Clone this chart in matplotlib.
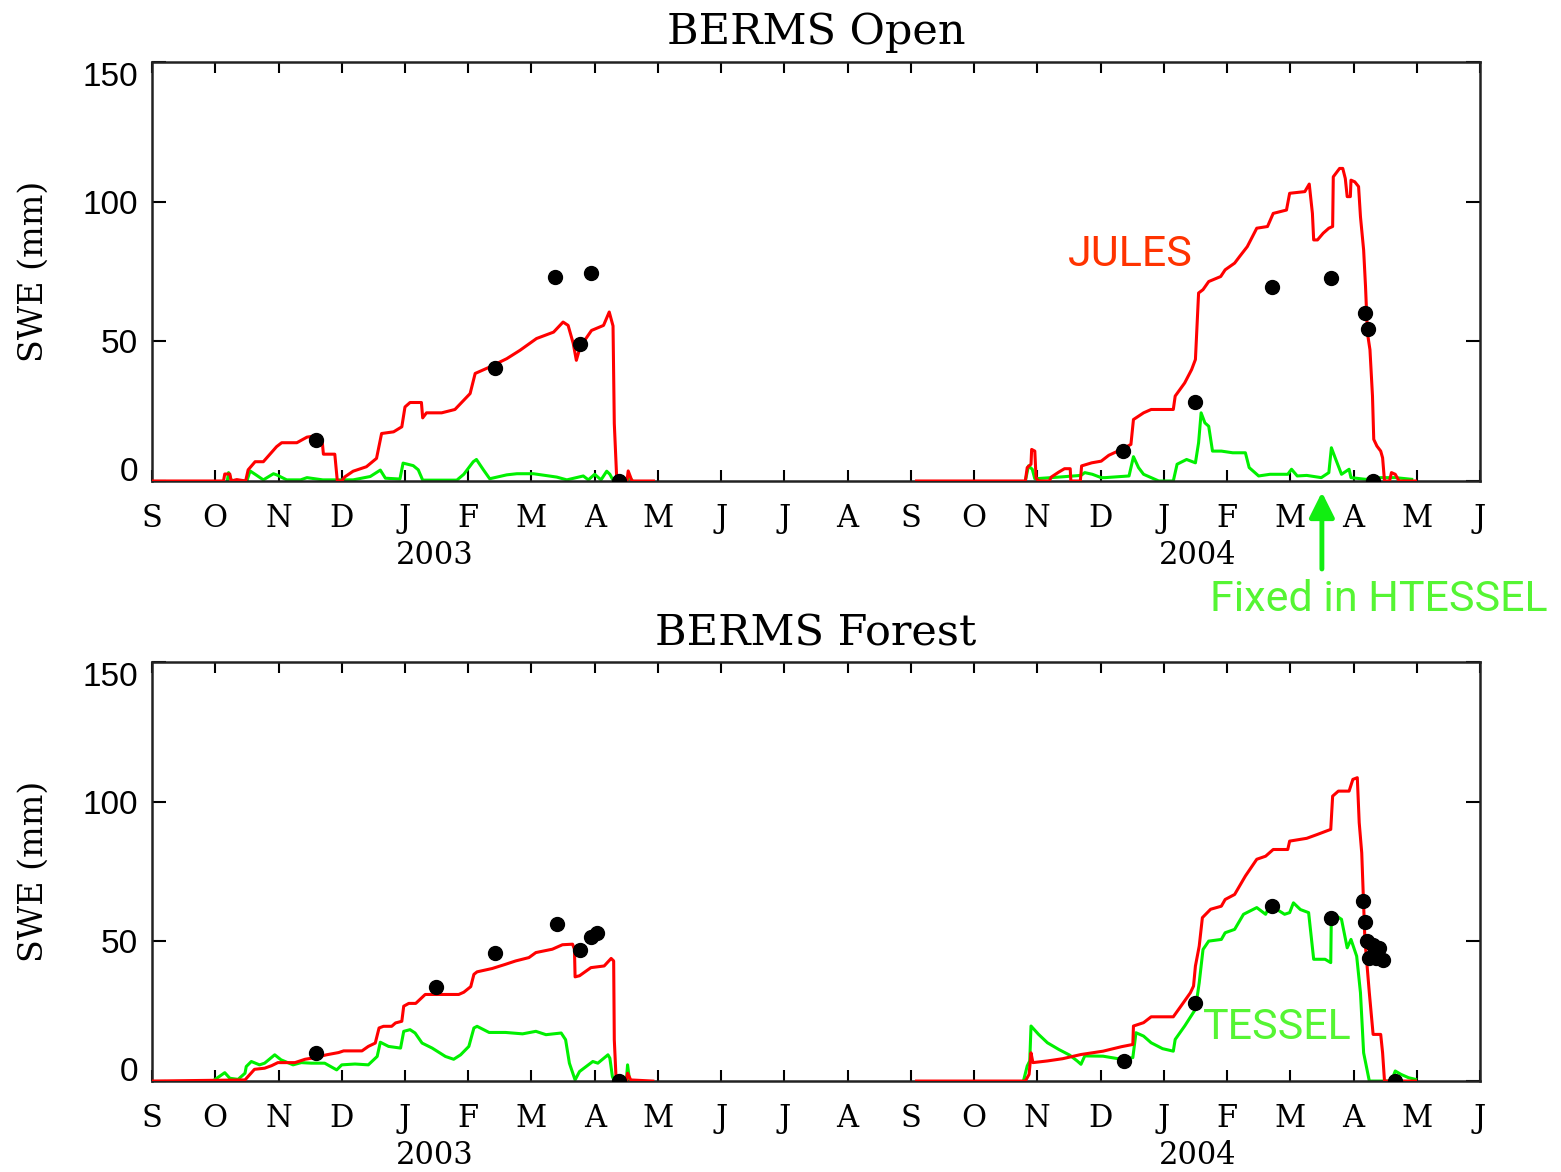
import numpy as np
import matplotlib
matplotlib.use("Agg")
import matplotlib.pyplot as plt

# ----------------------------
# Data (x in months since 1 Sep 2002, SWE in mm)
# ----------------------------

month_labels = list("SONDJFMAMJJASONDJFMAMJ")
year_labels = ["2003", "2004"]
year_pos = [4.47, 16.54]

# BERMS Open - JULES (red)
open_jules_03_t = [0.02, 1.13, 1.15, 1.23, 1.25, 1.34, 1.48, 1.52, 1.63, 1.76, 1.97, 2.05, 2.29, 2.45,
                   2.60, 2.69, 2.71, 2.89, 2.93, 3.00, 3.05, 3.18, 3.39, 3.55, 3.63, 3.82, 3.95, 4.00,
                   4.08, 4.26, 4.28, 4.34, 4.58, 4.79, 5.03, 5.11, 5.32, 5.61, 5.82, 6.08, 6.35, 6.50,
                   6.58, 6.66, 6.71, 6.77, 6.95, 7.14, 7.23, 7.29, 7.31, 7.35, 7.51, 7.53, 7.59, 7.93]
open_jules_03_v = [0, 0, 2.5, 2.5, 0, 0.5, 0, 4, 6.9, 6.9, 12.3, 13.7, 13.7, 15.7,
                   16.2, 14.5, 9.6, 9.6, 0, 0, 1.5, 3.5, 5.1, 8.1, 17, 17.6, 19.4, 26.5,
                   28.1, 28.1, 22.6, 24.4, 24.4, 25.6, 31.3, 38.5, 40.6, 43.8, 46.8, 51, 53.3, 56.9,
                   55.7, 49.3, 43.2, 48, 53.9, 55.7, 60.5, 55.5, 20.6, 0, 0, 3.6, 0, 0]
open_jules_04_t = [12.09, 13.81, 13.84, 13.90, 13.91, 13.96, 13.98, 14.02, 14.19, 14.22, 14.34, 14.43,
                   14.52, 14.53, 14.68, 14.70, 14.86, 15.01, 15.13, 15.33, 15.48, 15.52, 15.68, 15.80,
                   16.15, 16.18, 16.33, 16.44, 16.50, 16.55, 16.62, 16.71, 16.90, 16.97, 17.12, 17.20,
                   17.32, 17.47, 17.64, 17.73, 17.94, 17.99, 18.23, 18.30, 18.35, 18.37, 18.43, 18.52,
                   18.61, 18.67, 18.68, 18.78, 18.83, 18.87, 18.90, 18.95, 18.96, 19.02, 19.08, 19.11,
                   19.16, 19.19, 19.22, 19.26, 19.30, 19.32, 19.37, 19.43, 19.46, 19.49, 19.57, 19.60,
                   19.66, 19.72, 19.98]
open_jules_04_v = [0, 0, 4.8, 6.0, 11.3, 10.7, 1.0, 0, 0, 1.4, 3.2, 4.4,
                   4.4, 0, 0, 5.4, 6.5, 7.1, 9.2, 11.3, 13.1, 22.0, 24.4, 25.6,
                   25.6, 30.4, 35.1, 39.9, 43.5, 67.3, 68.5, 71.4, 73.2, 75.6, 78.0, 80.4,
                   83.9, 90.5, 91.1, 95.8, 97.0, 103.0, 103.6, 106.3, 95.8, 86.3, 86.3, 88.7,
                   90.5, 91.1, 108.9, 111.9, 111.9, 108.3, 101.8, 101.8, 107.7, 107.1, 105.4, 94.6,
                   82.7, 69.6, 53.0, 47.0, 30.4, 14.9, 12.5, 10.7, 8.3, 0, 0, 3.0,
                   2.4, 0, 0]

# BERMS Open - TESSEL (green)
open_tessel_03_t = [1.19, 1.21, 1.26, 1.50, 1.55, 1.63, 1.76, 1.92, 1.97, 2.13, 2.35, 2.45, 2.70, 3.18,
                    3.45, 3.61, 3.69, 3.92, 3.97, 4.13, 4.21, 4.28, 4.82, 4.93, 5.08, 5.13, 5.24, 5.34,
                    5.61, 5.77, 6.03, 6.40, 6.56, 6.82, 6.90, 7.00, 7.10, 7.19, 7.24, 7.29, 7.50, 7.56, 7.60]
open_tessel_03_v = [0, 3, 0, 0, 3.6, 2.4, 0.4, 2.6, 2.2, 0.4, 0.4, 1.2, 0.4, 0.4,
                    1.6, 3.9, 1.0, 0.7, 6.4, 5.5, 4.0, 0.3, 0.3, 2.4, 6.9, 7.7, 4.0, 0.8,
                    2.2, 2.6, 2.6, 1.4, 0.4, 1.8, 0.4, 2.4, 0.4, 3.5, 2.4, 0.3, 0.3, 1.0, 0]
open_tessel_04_t = [13.81, 13.86, 13.92, 13.96, 14.22, 14.40, 14.69, 14.75, 14.87, 15.01, 15.07, 15.45,
                    15.52, 15.60, 15.68, 15.92, 16.15, 16.21, 16.36, 16.50, 16.55, 16.59, 16.65, 16.71,
                    16.77, 16.91, 17.09, 17.29, 17.35, 17.50, 17.68, 17.96, 18.02, 18.11, 18.26, 18.49,
                    18.61, 18.65, 18.72, 18.81, 18.93, 18.96, 19.19, 19.43, 19.66, 19.92]
open_tessel_04_v = [0, 5.4, 4.2, 0.8, 1.2, 1.5, 2.0, 3.0, 2.4, 1.2, 1.2, 1.8,
                    8.7, 4.8, 2.4, 0, 0, 6.0, 7.7, 6.5, 13.7, 24.4, 20.8, 19.6,
                    10.7, 10.7, 10.1, 10.1, 4.8, 1.8, 2.4, 2.4, 4.2, 1.8, 2.0, 1.2,
                    3.0, 11.9, 7.7, 2.4, 4.2, 1.2, 0.6, 1.2, 1.2, 0.6]

# BERMS Open - observations
open_obs_t = [2.60, 5.42, 6.37, 6.94, 6.77, 7.38,
              15.35, 16.49, 17.71, 18.64, 19.18, 19.23, 19.31]
open_obs_v = [14.6, 40.4, 73.2, 74.3, 48.9, 0,
              10.7, 28.2, 69.3, 72.5, 60.0, 54.3, 0]

# BERMS Forest - JULES (red)
forest_jules_03_t = [0.0, 1.47, 1.62, 1.78, 1.89, 1.99, 2.26, 2.42, 2.58, 2.76, 2.95, 3.03, 3.32, 3.42,
                     3.53, 3.59, 3.66, 3.79, 3.85, 3.95, 3.98, 4.06, 4.17, 4.32, 4.85, 4.93, 5.04, 5.09,
                     5.14, 5.38, 5.59, 5.75, 5.96, 6.07, 6.33, 6.49, 6.65, 6.68, 6.69, 6.76, 6.94, 7.15,
                     7.26, 7.30, 7.31, 7.34, 7.50, 7.52, 7.57, 7.92]
forest_jules_03_v = [0, 0.4, 4.2, 4.6, 5.5, 6.6, 6.6, 7.8, 8.4, 9.4, 10.2, 10.8, 10.8, 12.4,
                     13.6, 19.0, 19.6, 19.6, 20.8, 21.4, 26.8, 27.8, 27.8, 31.0, 31.0, 31.8, 33.8, 38.2,
                     39.1, 40.3, 41.8, 43.0, 44.2, 46.0, 47.2, 48.8, 49.0, 47.2, 37.3, 37.7, 40.6, 41.2,
                     43.9, 43.0, 14.8, 0, 0, 2.8, 0.4, 0]
forest_jules_04_t = [12.09, 13.81, 13.87, 13.90, 13.93, 14.16, 14.40, 14.69, 15.04, 15.33, 15.51, 15.52,
                     15.68, 15.80, 16.15, 16.27, 16.42, 16.47, 16.50, 16.56, 16.61, 16.74, 16.91, 16.97,
                     17.12, 17.29, 17.47, 17.61, 17.73, 17.96, 17.99, 18.26, 18.43, 18.64, 18.67, 18.76,
                     18.93, 18.99, 19.06, 19.09, 19.13, 19.18, 19.25, 19.31, 19.43, 19.46, 19.49, 19.98]
forest_jules_04_v = [0, 0, 2.4, 10.1, 6.6, 7.2, 8.0, 9.5, 10.7, 12.3, 13.1, 19.7,
                     20.9, 23.0, 23.0, 26.8, 31.6, 34.0, 41.2, 48.3, 58.5, 61.5, 62.6, 65.0,
                     66.8, 73.4, 79.4, 80.5, 82.9, 82.9, 85.9, 86.9, 88.3, 90.1, 102.0, 103.8,
                     103.8, 108.0, 108.6, 92.5, 81.7, 50.7, 31.6, 16.7, 16.7, 10.1, 0, 0]

# BERMS Forest - TESSEL (green)
forest_tessel_03_t = [0.96, 1.15, 1.23, 1.36, 1.47, 1.49, 1.57, 1.70, 1.78, 1.94, 2.04, 2.23, 2.36, 2.52,
                      2.73, 2.92, 3.00, 3.21, 3.42, 3.56, 3.61, 3.74, 3.93, 3.98, 4.08, 4.16, 4.27, 4.43,
                      4.64, 4.77, 4.88, 5.01, 5.09, 5.14, 5.33, 5.59, 5.86, 6.07, 6.23, 6.47, 6.54, 6.60,
                      6.69, 6.76, 6.97, 7.05, 7.21, 7.24, 7.28, 7.31, 7.50, 7.52, 7.55, 7.60]
forest_tessel_03_v = [0, 3.0, 1.0, 0.6, 2.8, 5.2, 7.0, 5.8, 6.4, 9.4, 7.6, 5.8, 6.6, 6.4,
                      6.4, 4.0, 5.8, 6.1, 5.8, 8.8, 13.9, 12.4, 11.8, 17.8, 18.4, 17.2, 13.6, 11.8,
                      8.8, 7.8, 9.4, 12.4, 19.0, 19.6, 17.4, 17.4, 16.9, 17.8, 16.6, 17.2, 14.8, 6.4,
                      0.4, 3.4, 7.0, 6.4, 9.4, 8.2, 1.6, 0, 0, 5.8, 0.4, 0]
forest_tessel_04_t = [13.78, 13.84, 13.88, 13.90, 14.02, 14.16, 14.34, 14.51, 14.63, 14.69, 14.75, 15.04,
                      15.33, 15.51, 15.56, 15.68, 15.80, 15.98, 16.15, 16.18, 16.33, 16.50, 16.56, 16.62,
                      16.71, 16.91, 16.97, 17.12, 17.26, 17.47, 17.61, 17.67, 17.79, 17.91, 17.99, 18.05,
                      18.16, 18.29, 18.37, 18.55, 18.64, 18.65, 18.81, 18.90, 18.96, 19.05, 19.11, 19.16,
                      19.25, 19.60, 19.66, 19.75, 19.87, 19.98]
forest_tessel_04_v = [0, 5.4, 7.2, 19.7, 16.7, 13.7, 11.3, 9.3, 7.2, 6.0, 9.0, 8.9,
                      7.8, 8.4, 17.3, 16.1, 13.7, 11.6, 10.7, 14.9, 19.7, 25.7, 35.2, 47.1,
                      50.1, 50.7, 53.1, 54.3, 59.7, 62.1, 59.7, 62.6, 61.4, 59.7, 60.3, 63.8,
                      61.4, 60.3, 43.6, 43.6, 42.4, 60.3, 57.9, 47.7, 50.7, 44.7, 31.6, 10.1,
                      0, 0, 3.6, 2.4, 1.2, 0.6]

# BERMS Forest - observations
forest_obs_t = [2.59, 4.49, 5.42, 6.40, 6.77, 6.94, 7.04, 7.38,
                15.37, 16.49, 17.71, 18.64, 19.15, 19.18, 19.21, 19.24, 19.31, 19.40, 19.47, 19.36, 19.66]
forest_obs_v = [10, 33.6, 45.7, 56.4, 46.8, 51.4, 52.9, 0,
                7.1, 27.9, 62.5, 58.2, 64.6, 57.1, 50, 43.9, 48.6, 47.5, 43.2, 43.9, 0]

# ----------------------------
# Styling
# ----------------------------

RED = "#ff0000"
GREEN = "#00f000"
SERIF = ["DejaVu Serif"]
SANS = ["Liberation Sans", "DejaVu Sans"]
LABEL_FONT = ["Roboto", "DejaVu Sans"]


def draw_panel(ax, title, title_pad, red_series, green_series, obs_t, obs_v):
    for t, v in red_series:
        ax.plot(t, v, color=RED, lw=2.2, zorder=3)
    for t, v in green_series:
        ax.plot(t, v, color=GREEN, lw=2.2, zorder=2)
    ax.plot(obs_t, obs_v, "o", color="black", ms=10, zorder=4)

    ax.set_xlim(0, 21)
    ax.set_ylim(0, 150)
    ax.set_xticks(np.arange(len(month_labels)))
    ax.set_xticklabels(month_labels, fontsize=22, family=SERIF)
    ax.set_yticks([0, 50, 100, 150])
    ax.set_yticklabels(["0", "50", "100", "150"], fontsize=24, family=SANS)
    ax.tick_params(axis="x", direction="in", length=8, width=1.5, top=True, pad=16)
    ax.tick_params(axis="y", direction="in", length=10, width=1.5, right=True, pad=10)
    ylabels = ax.get_yticklabels()
    ylabels[0].set_va("baseline")
    ylabels[-1].set_va("top")
    for s in ax.spines.values():
        s.set_linewidth(1.8)
        s.set_color("#222222")

    ax.set_title(title, fontsize=31, family=SERIF, pad=title_pad)
    ax.set_ylabel("SWE (mm)", fontsize=24, family=SERIF)
    ax.yaxis.set_label_coords(-0.077, 0.5)

    for lbl, pos in zip(year_labels, year_pos):
        ax.text(pos, -0.177, lbl, transform=ax.get_xaxis_transform(),
                ha="center", va="center", fontsize=22, family=SERIF)


fig = plt.figure(figsize=(15.61, 11.72), dpi=100)
ax_top = fig.add_axes([0.0974, 0.5896, 0.8507, 0.3575])
ax_bot = fig.add_axes([0.0974, 0.0776, 0.8507, 0.3575])

draw_panel(ax_top, "BERMS Open", 13,
           [(open_jules_03_t, open_jules_03_v), (open_jules_04_t, open_jules_04_v)],
           [(open_tessel_03_t, open_tessel_03_v), (open_tessel_04_t, open_tessel_04_v)],
           open_obs_t, open_obs_v)
draw_panel(ax_bot, "BERMS Forest", 12,
           [(forest_jules_03_t, forest_jules_03_v), (forest_jules_04_t, forest_jules_04_v)],
           [(forest_tessel_03_t, forest_tessel_03_v), (forest_tessel_04_t, forest_tessel_04_v)],
           forest_obs_t, forest_obs_v)

# ----------------------------
# Annotations
# ----------------------------

ax_top.text(14.48, 81, "JULES", color="#ff3300", fontsize=31, family=LABEL_FONT,
            ha="left", va="center")
ax_bot.text(16.62, 19, "TESSEL", color="#55f533", fontsize=31, family=LABEL_FONT,
            ha="left", va="center", zorder=5)
ax_top.text(16.73, -42.5, "Fixed in HTESSEL", color="#55f533", fontsize=31,
            family=LABEL_FONT, ha="left", va="center", clip_on=False)
ax_top.annotate("", xy=(18.5, -3.0), xytext=(18.5, -32.5),
                arrowprops=dict(arrowstyle="-|>", color="#11ee11", lw=3.5, mutation_scale=38),
                annotation_clip=False)

fig.savefig("out.png", dpi=100)
